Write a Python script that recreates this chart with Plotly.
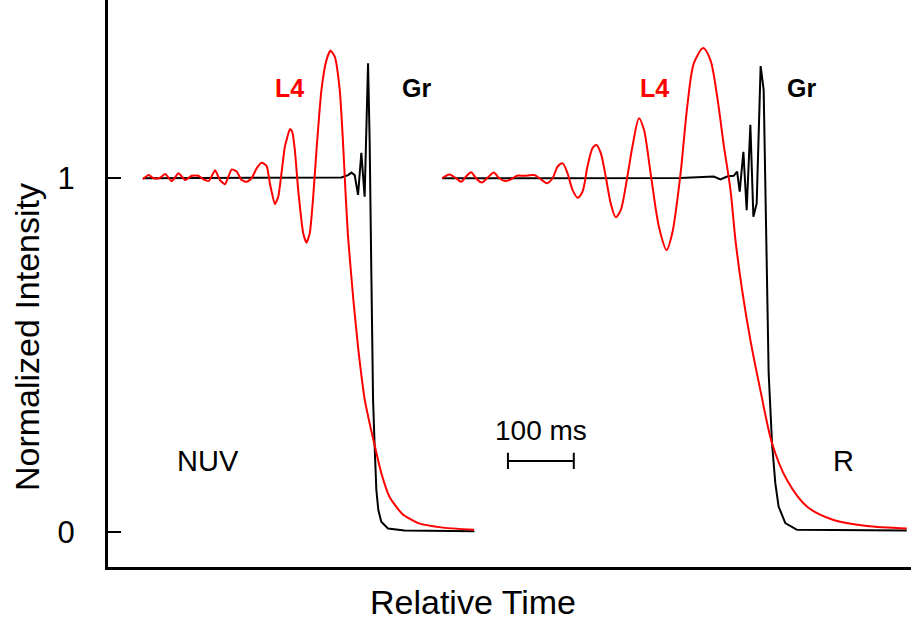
import plotly.graph_objects as go

# NUV panel (left): L4 (red) and Gr (black)
nuv_l4_t = [51.5, 60.2, 67.7, 76.2, 85.3, 95.5, 105.6, 115.6, 125.8, 135.9, 143.5, 152.0, 161.1, 168.6,
            176.2, 186.4, 193.9, 201.5, 209.1, 216.7, 224.2, 231.8, 239.4, 244.4, 252.0, 257.1, 263.2,
            267.1, 269.7, 274.7, 278.3, 282.3, 287.4, 295.0, 300.0, 305.0, 310.2, 315.2, 322.7, 330.3,
            336.4, 342.9, 350.5, 355.3, 359.1, 362.9, 371.2, 378.8, 388.6, 403.5, 413.6, 426.2, 445.5,
            469.7, 504.5, 554.5]
nuv_l4_y = [0.997, 1.009, 1.000, 1.000, 1.012, 0.992, 1.014, 0.995, 1.007, 1.007, 0.997, 0.993, 1.023, 0.995,
            0.983, 1.025, 1.019, 0.995, 0.990, 1.000, 1.028, 1.044, 1.035, 0.986, 0.927, 0.948, 1.033,
            1.089, 1.108, 1.139, 1.132, 1.080, 0.967, 0.845, 0.818, 0.845, 0.948, 1.080, 1.250, 1.334,
            1.361, 1.344, 1.250, 1.108, 0.967, 0.840, 0.656, 0.515, 0.373, 0.245, 0.167, 0.099, 0.051,
            0.025, 0.013, 0.006]

nuv_gr_t = [51.5, 140.9, 231.8, 292.4, 353.0, 363.2, 368.2, 373.2, 378.3, 383.3, 388.3, 393.5, 395.9,
            398.5, 401.1, 403.5, 406.1, 409.1, 413.6, 423.8, 448.9, 555.0]
nuv_gr_y = [1.000, 1.000, 1.000, 1.000, 1.002, 1.009, 1.016, 1.009, 0.953, 1.072, 0.948, 1.325, 1.108,
            0.732, 0.373, 0.243, 0.119, 0.062, 0.029, 0.010, 0.004, 0.002]

# R panel (right): L4 (red) and Gr (black)
r_l4_t = [506.1, 517.1, 527.3, 534.8, 542.4, 550.0, 557.6, 566.2, 575.3, 584.4, 592.9, 601.5, 610.6, 619.7,
          630.8, 645.9, 656.1, 665.2, 673.8, 681.4, 689.0, 696.5, 704.1, 711.7, 719.2, 726.8, 734.4, 740.5,
          747.0, 754.5, 762.1, 769.7, 777.3, 787.4, 795.0, 805.0, 812.6, 822.7, 835.3, 847.0, 855.6, 868.2,
          878.3, 888.3, 902.6, 913.6, 923.8, 933.8, 944.0, 951.5, 961.7, 974.2, 989.4, 1007.1, 1029.8,
          1060.1, 1100.5, 1151.1, 1211.7]
r_l4_y = [1.000, 1.011, 1.000, 0.990, 1.005, 1.017, 1.000, 0.988, 1.002, 1.016, 1.000, 0.992, 0.997, 1.007,
          1.007, 1.009, 0.997, 0.986, 1.000, 1.033, 1.042, 1.014, 0.967, 0.945, 0.962, 1.033, 1.085, 1.094,
          1.071, 1.005, 0.929, 0.890, 0.910, 1.005, 1.089, 1.170, 1.137, 1.014, 0.863, 0.797, 0.845, 1.014,
          1.202, 1.325, 1.368, 1.334, 1.231, 1.094, 0.967, 0.826, 0.684, 0.543, 0.401, 0.251, 0.147,
          0.072, 0.034, 0.017, 0.010]

r_gr_t = [506.1, 625.8, 747.0, 868.2, 918.6, 928.8, 938.9, 948.9, 954.1, 958.0, 963.6, 968.6, 974.2, 978.8,
          983.8, 989.8, 994.4, 998.5, 1002.0, 1007.1, 1012.1, 1017.1, 1027.3, 1045.0, 1211.7]
r_gr_y = [1.000, 1.000, 1.000, 1.001, 1.005, 0.997, 1.005, 1.007, 1.019, 0.962, 1.075, 0.910, 1.151, 0.891,
          0.929, 1.317, 1.250, 0.826, 0.449, 0.251, 0.138, 0.072, 0.025, 0.006, 0.004]

y_tick_vals = [0, 1]
y_tick_text = ["0", "1"]

# scale bar (100 ms)
bar_start, bar_len, bar_y = 606, 100, 0.201

RED = "#ff0000"
BLACK = "#000000"
FONT = "Liberation Sans, Arial, Helvetica, sans-serif"

fig = go.Figure()
fig.add_trace(go.Scatter(x=nuv_gr_t, y=nuv_gr_y, mode="lines", line=dict(color=BLACK, width=2), showlegend=False))
fig.add_trace(go.Scatter(x=nuv_l4_t, y=nuv_l4_y, mode="lines", line=dict(color=RED, width=2, shape="spline", smoothing=0.5),
                         showlegend=False))
fig.add_trace(go.Scatter(x=r_gr_t, y=r_gr_y, mode="lines", line=dict(color=BLACK, width=2), showlegend=False))
fig.add_trace(go.Scatter(x=r_l4_t, y=r_l4_y, mode="lines", line=dict(color=RED, width=2, shape="spline", smoothing=0.8),
                         showlegend=False))

# scale bar
bx0, bx1 = bar_start, bar_start + bar_len
fig.add_shape(type="line", x0=bx0, x1=bx1, y0=bar_y, y1=bar_y, line=dict(color=BLACK, width=2))
fig.add_shape(type="line", x0=bx0, x1=bx0, y0=bar_y - 0.023, y1=bar_y + 0.023, line=dict(color=BLACK, width=2))
fig.add_shape(type="line", x0=bx1, x1=bx1, y0=bar_y - 0.023, y1=bar_y + 0.023, line=dict(color=BLACK, width=2))

labels = [
    (274, 1.255, "<b>L4</b>", RED, 25),
    (466.5, 1.255, "<b>Gr</b>", BLACK, 25),
    (829, 1.255, "<b>L4</b>", RED, 25),
    (1051.5, 1.255, "<b>Gr</b>", BLACK, 25),
    (150, 0.201, "NUV", BLACK, 29),
    (1116.3, 0.201, "R", BLACK, 29),
    (656, 0.288, "100 ms", BLACK, 28),
]
for x, y, txt, col, sz in labels:
    fig.add_annotation(x=x, y=y, text=txt, showarrow=False, xanchor="center", yanchor="middle",
                       font=dict(family=FONT, size=sz, color=col))

# axis titles as annotations
fig.add_annotation(xref="paper", yref="paper", x=(473 - 108) / 803, y=(567 - 602) / 567,
                   text="Relative Time", showarrow=False, xanchor="center", yanchor="middle",
                   font=dict(family=FONT, size=34, color=BLACK))
fig.add_annotation(xref="paper", yref="paper", x=(27 - 108) / 803, y=(567 - 337) / 567,
                   text="Normalized Intensity", showarrow=False, textangle=-90, xanchor="center", yanchor="middle",
                   font=dict(family=FONT, size=34, color=BLACK))

fig.update_layout(
    width=911, height=625,
    margin=dict(l=108, r=0, t=0, b=58, autoexpand=False),
    plot_bgcolor="white", paper_bgcolor="white",
    font=dict(family=FONT, color=BLACK),
    xaxis=dict(range=[-1.5, 1218.2], showgrid=False, zeroline=False, showticklabels=False, ticks="",
               showline=True, linecolor=BLACK, linewidth=3, automargin=False),
    yaxis=dict(range=[-0.099, 1.504], showgrid=False, zeroline=False, tickvals=y_tick_vals, ticktext=y_tick_text,
               ticks="inside", ticklen=13, tickwidth=2, tickcolor=BLACK, ticklabelstandoff=24,
               tickfont=dict(family=FONT, size=31, color=BLACK),
               showline=True, linecolor=BLACK, linewidth=3, automargin=False),
)

fig.write_html("out.html", config={"displayModeBar": False},
               post_script="document.body.style.margin='0';document.body.style.overflow='hidden';")
